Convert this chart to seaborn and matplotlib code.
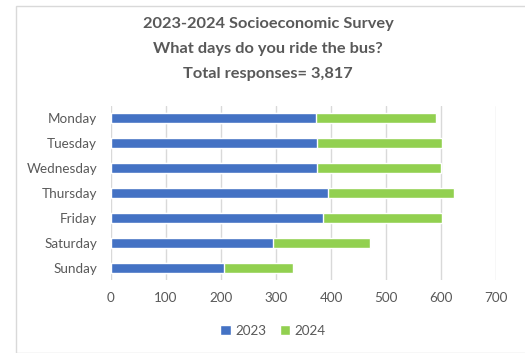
import matplotlib
matplotlib.use("Agg")
import matplotlib.pyplot as plt
from matplotlib.patches import Rectangle, Patch
import seaborn as sns
import pandas as pd
import numpy as np

days = ["Monday", "Tuesday", "Wednesday", "Thursday", "Friday", "Saturday", "Sunday"]
riders_2023 = [372, 374, 375, 394, 385, 294, 205]
riders_2024 = [219, 227, 224, 229, 217, 177, 125]
x_ticks = [0, 100, 200, 300, 400, 500, 600, 700]
title_lines = ["2023-2024 Socioeconomic Survey",
               "What days do you ride the bus?",
               "Total responses= 3,817"]

blue = "#4472C4"
green = "#92D050"
grey_text = "#595959"

sns.set_theme(style="white")
plt.rcParams["font.family"] = ["Lato", "DejaVu Sans"]

df = pd.DataFrame({
    "day": days,
    "y2023": riders_2023,
    "y2024": riders_2024,
})
df["total"] = df["y2023"] + df["y2024"]

fig = plt.figure(figsize=(5.25, 3.53), dpi=100)
ax = fig.add_axes([0.2114, 0.2068, 0.734, 0.4929])

# stacked bars: full total in green, 2023 portion in blue on top
sns.barplot(data=df, y="day", x="total", color=green, width=0.4,
            orient="h", ax=ax, saturation=1, order=days)
sns.barplot(data=df, y="day", x="y2023", color=blue, width=0.4,
            orient="h", ax=ax, saturation=1, order=days)

ax.set_xlim(0, 700)
ax.set_ylim(len(days) - 0.5, -0.5)
ax.set_xticks(x_ticks)
ax.set_xticklabels([str(t) for t in x_ticks])
ax.set_xlabel("")
ax.set_ylabel("")
ax.xaxis.grid(True, color="#D9D9D9", linewidth=1)
ax.set_axisbelow(True)
for s in ax.spines.values():
    s.set_visible(False)
ax.tick_params(axis="both", length=0, labelsize=9.7, colors=grey_text)
ax.tick_params(axis="y", pad=10)
ax.tick_params(axis="x", pad=9)
for lbl in ax.get_yticklabels() + ax.get_xticklabels():
    lbl.set_color(grey_text)

# chart frame
fig.patches.append(Rectangle((16 / 525, 0.0), 1.2, 1 - 6 / 353,
                             transform=fig.transFigure, fill=False,
                             edgecolor="#D9D9D9", linewidth=1))

for i, line in enumerate(title_lines):
    fig.text(268 / 525, 1 - (24 + 25 * i) / 353, line, ha="center", va="center",
             fontsize=11.8, fontweight="bold", color=grey_text)

handles = [Patch(facecolor=blue, label="2023"), Patch(facecolor=green, label="2024")]
fig.legend(handles=handles, loc="center", bbox_to_anchor=(273 / 525, 1 - 331 / 353),
           ncol=2, frameon=False, fontsize=9.7, handlelength=0.8, handleheight=0.8,
           handletextpad=0.3, columnspacing=1.0, labelcolor=grey_text)

fig.savefig("out.png", dpi=100)
